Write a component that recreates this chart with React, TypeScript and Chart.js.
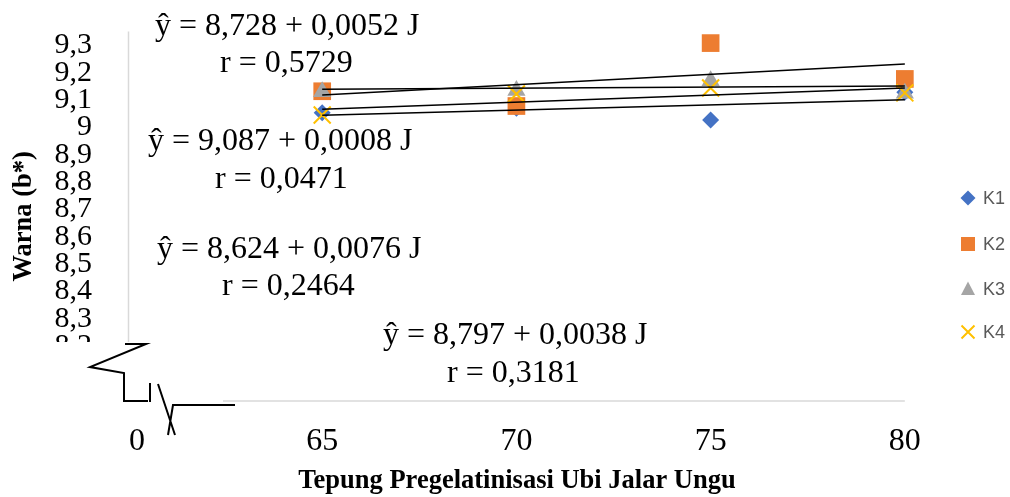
import React, { useEffect, useRef } from 'react';
import { Chart, registerables } from 'chart.js';

Chart.register(...registerables);

// ---- data ----
const xCategories = [65, 70, 75, 80];
const seriesNames = ['K1', 'K2', 'K3', 'K4'];
const k1Values = [9.053, 9.07, 9.027, 9.128];
const k2Values = [9.132, 9.078, 9.308, 9.177];
const k3Values = [9.13, 9.135, 9.17, 9.125];
const k4Values = [9.045, 9.122, 9.144, 9.126];
const trendIntercepts = [8.797, 8.624, 9.087, 8.728];
const trendSlopes = [0.0038, 0.0076, 0.0008, 0.0052];
const eqLines = ['ŷ = 8,728 + 0,0052 J', 'ŷ = 9,087 + 0,0008 J', 'ŷ = 8,624 + 0,0076 J', 'ŷ = 8,797 + 0,0038 J'];
const rLines = ['r = 0,5729', 'r = 0,0471', 'r = 0,2464', 'r = 0,3181'];
const yTickValues = [9.3, 9.2, 9.1, 9.0, 8.9, 8.8, 8.7, 8.6, 8.5, 8.4, 8.3, 8.2];
const xTickLabels = ['0', '65', '70', '75', '80'];
const xBreakLabelValue = 60.23;

// ---- styles / layout ----
const COLORS = ['#4472C4', '#ED7D31', '#A5A5A5', '#FFC000'];
const STYLES: any[] = [
  { pointStyle: 'rectRot', radius: 8.5, fill: true },
  { pointStyle: 'rect', radius: 12.5, fill: true },
  { pointStyle: 'triangle', radius: 10.5, fill: true },
  { pointStyle: 'crossRot', radius: 12, fill: false },
];
const SERIF = "'Liberation Serif', 'Times New Roman', serif";
const SANS = "'Liberation Sans', Arial, sans-serif";
// annotation boxes: [eqX, eqBaseline, rX, rBaseline]
const ANNOT_POS = [
  [155, 35, 220, 72],
  [148, 150, 215, 188],
  [157, 258, 222, 295],
  [383, 344, 447, 382],
];
const LEGEND_X = 968;
const LEGEND_TEXT_X = 983;
const LEGEND_Y = [198, 244, 289, 332];

function drawMarker(ctx: CanvasRenderingContext2D, i: number, x: number, y: number) {
  ctx.save();
  ctx.fillStyle = COLORS[i];
  ctx.strokeStyle = COLORS[i];
  ctx.lineWidth = 2;
  ctx.beginPath();
  if (i === 0) {
    ctx.moveTo(x, y - 7.5); ctx.lineTo(x + 7.5, y); ctx.lineTo(x, y + 7.5); ctx.lineTo(x - 7.5, y); ctx.closePath(); ctx.fill();
  } else if (i === 1) {
    ctx.rect(x - 7, y - 7, 14, 14); ctx.fill();
  } else if (i === 2) {
    ctx.moveTo(x, y - 7.5); ctx.lineTo(x + 7, y + 6); ctx.lineTo(x - 7, y + 6); ctx.closePath(); ctx.fill();
  } else {
    ctx.moveTo(x - 6.5, y - 6.5); ctx.lineTo(x + 6.5, y + 6.5); ctx.moveTo(x + 6.5, y - 6.5); ctx.lineTo(x - 6.5, y + 6.5); ctx.stroke();
  }
  ctx.restore();
}

const overlayPlugin = {
  id: 'overlay',
  afterDraw(chart: any) {
    const { ctx, chartArea } = chart;
    const left = chartArea.left;
    const bottom = chartArea.bottom;
    ctx.save();
    // white patch hiding the lower part of the value axis
    ctx.fillStyle = '#ffffff';
    ctx.fillRect(0, 342, left - 1, 56);
    // axis lines
    ctx.strokeStyle = '#D9D9D9';
    ctx.lineWidth = 1.5;
    ctx.beginPath();
    ctx.moveTo(left + 0.5, chartArea.top);
    ctx.lineTo(left + 0.5, 342);
    ctx.moveTo(223, bottom);
    ctx.lineTo(chart.scales.x.getPixelForValue(80), bottom);
    ctx.stroke();
    // axis break symbols
    ctx.strokeStyle = '#000';
    ctx.lineWidth = 2;
    ctx.beginPath();
    ctx.moveTo(left - 3, 344); ctx.lineTo(left + 18, 344); ctx.lineTo(left - 38, 367);
    ctx.lineTo(left - 4, 373); ctx.lineTo(left - 4, bottom); ctx.lineTo(left + 20, bottom);
    ctx.moveTo(left + 22, 383); ctx.lineTo(left + 22, bottom + 1);
    ctx.moveTo(left + 30, 384); ctx.lineTo(left + 47, 435);
    ctx.moveTo(left + 40, 435); ctx.lineTo(left + 45, bottom + 4); ctx.lineTo(left + 107, bottom + 4);
    ctx.stroke();
    // regression annotations
    ctx.fillStyle = '#000';
    ctx.font = `32px ${SERIF}`;
    ctx.textAlign = 'left';
    ctx.textBaseline = 'alphabetic';
    eqLines.forEach((t, i) => {
      const p = ANNOT_POS[i];
      ctx.fillText(t, p[0], p[1]);
      ctx.fillText(rLines[i], p[2], p[3]);
    });
    // legend
    ctx.font = `18px ${SANS}`;
    ctx.textBaseline = 'middle';
    seriesNames.forEach((n, i) => {
      drawMarker(ctx, i, LEGEND_X, LEGEND_Y[i]);
      ctx.fillStyle = '#595959';
      ctx.fillText(n, LEGEND_TEXT_X, LEGEND_Y[i] + 1);
    });
    ctx.restore();
  },
};

export default function App() {
  const ref = useRef<HTMLCanvasElement>(null);
  useEffect(() => {
    if (!ref.current) return;
    const seriesValues = [k1Values, k2Values, k3Values, k4Values];
    const trendSets = trendIntercepts.map((a, i) => ({
      type: 'scatter' as const,
      label: 'trend ' + seriesNames[i],
      data: [xCategories[0], xCategories[xCategories.length - 1]].map((x) => ({ x, y: a + trendSlopes[i] * x })),
      showLine: true,
      borderColor: '#000',
      borderWidth: 1.5,
      pointRadius: 0,
      order: 0,
      clip: false as any,
    }));
    const pointSets = seriesValues.map((vals, i) => ({
      type: 'scatter' as const,
      label: seriesNames[i],
      data: vals.map((y, j) => ({ x: xCategories[j], y })),
      showLine: false,
      pointStyle: STYLES[i].pointStyle,
      pointRadius: STYLES[i].radius,
      backgroundColor: COLORS[i],
      borderColor: COLORS[i],
      borderWidth: STYLES[i].fill ? 0 : 2,
      order: 4 - i,
      clip: false as any,
    }));
    const chart = new Chart(ref.current, {
      type: 'scatter',
      data: { datasets: [...trendSets, ...pointSets] as any },
      options: {
        animation: false,
        responsive: false,
        layout: { padding: { top: 31.6, right: 104, left: 0, bottom: 0 } },
        plugins: { legend: { display: false }, tooltip: { enabled: false } },
        scales: {
          x: {
            type: 'linear',
            min: 60,
            max: 80.03,
            grid: { display: false },
            border: { display: false },
            afterBuildTicks: (s: any) => {
              s.ticks = [xBreakLabelValue, ...xCategories].map((v) => ({ value: v }));
            },
            afterFit: (s: any) => {
              s.height = 96;
              s.paddingLeft = 0; s.paddingRight = 0; s.paddingTop = 0; s.paddingBottom = 0;
            },
            ticks: {
              autoSkip: false,
              maxRotation: 0,
              padding: 13,
              color: '#000',
              font: { family: SERIF, size: 32 },
              callback: (_v: any, idx: number) => xTickLabels[idx],
            },
            title: {
              display: true,
              text: 'Tepung Pregelatinisasi Ubi Jalar Ungu',
              color: '#000',
              font: { family: SERIF, size: 26.5, weight: 'bold' },
              padding: { top: 0, bottom: 0 },
            },
          },
          y: {
            type: 'linear',
            min: 8,
            max: 9.35,
            grid: { display: false },
            border: { display: false },
            afterBuildTicks: (s: any) => {
              s.ticks = yTickValues.map((v) => ({ value: v }));
            },
            afterFit: (s: any) => {
              s.width = 128;
              s.paddingLeft = 0; s.paddingRight = 0; s.paddingTop = 0; s.paddingBottom = 0;
            },
            ticks: {
              autoSkip: false,
              padding: 28,
              color: '#000',
              font: { family: SERIF, size: 30 },
              callback: (v: any) => String(Math.round(Number(v) * 10) / 10).replace('.', ','),
            },
            title: {
              display: true,
              text: 'Warna (b*)',
              color: '#000',
              font: { family: SERIF, size: 26.5, weight: 'bold' },
              padding: { top: 8, bottom: 0 },
            },
          },
        },
      } as any,
      plugins: [overlayPlugin],
    });
    return () => chart.destroy();
  }, []);
  return (
    <div style={{ position: 'fixed', left: 0, top: 0, width: 1010, height: 497, background: '#fff' }}>
      <canvas ref={ref} width={1010} height={497} style={{ display: 'block' }} />
    </div>
  );
}
